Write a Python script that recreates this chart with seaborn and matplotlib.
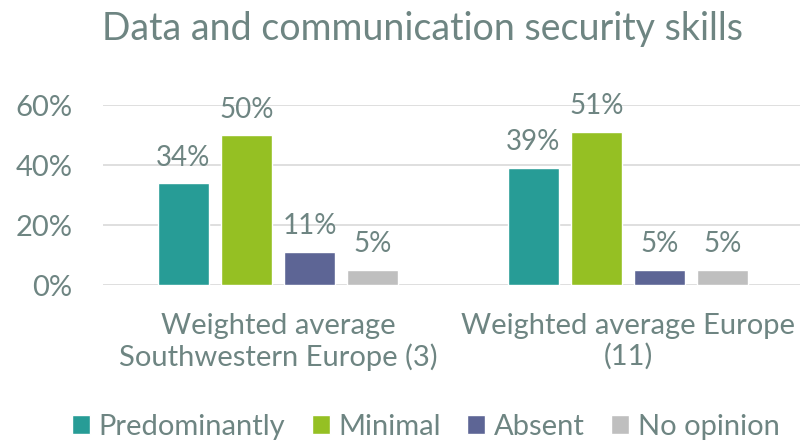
import matplotlib
matplotlib.use("Agg")
import matplotlib.pyplot as plt
import seaborn as sns
import pandas as pd

# data
regions = ["Weighted average\nSouthwestern Europe (3)", "Weighted average Europe\n(11)"]
answers = ["Predominantly", "Minimal", "Absent", "No opinion"]
southwest = [34, 50, 11, 5]
europe = [39, 51, 5, 5]
colors = ["#279C96", "#95C023", "#5D6595", "#BFBFBF"]
txt = "#6E8582"

rows = []
for reg, vals in zip(regions, [southwest, europe]):
    for a, v in zip(answers, vals):
        rows.append({"region": reg, "answer": a, "value": v})
df = pd.DataFrame(rows)

sns.set_style("white")
plt.rcParams["font.family"] = ["Lato", "DejaVu Sans"]

fig = plt.figure(figsize=(8, 4.41), dpi=100)
ax = fig.add_axes([103 / 800, 156 / 441, 700 / 800, 180 / 441])

sns.barplot(data=df, x="region", y="value", hue="answer", palette=colors,
            width=0.72, gap=0.2, saturation=1, ax=ax, legend=True)

for c in ax.containers:
    ax.bar_label(c, fmt="%.0f%%", padding=9, fontsize=20, color=txt)

ax.set_ylim(0, 60)
ax.set_xlim(-0.5, 1.5)
ax.set_yticks([0, 20, 40, 60])
ax.set_yticklabels(["0%", "20%", "40%", "60%"])
ax.yaxis.grid(True, color="#D9D9D9", lw=1.2)
ax.set_axisbelow(True)
for s in ax.spines.values():
    s.set_visible(False)
ax.tick_params(axis="both", length=0, labelsize=21, colors=txt)
ax.tick_params(axis="y", pad=22)
ax.tick_params(axis="x", pad=20)
ax.set_xlabel("")
ax.set_ylabel("")

fig.text(422 / 800, 1 - 40 / 441, "Data and communication security skills",
         ha="center", va="baseline", fontsize=27, color=txt)

h, l = ax.get_legend_handles_labels()
ax.legend_.remove()
fig.legend(h, l, loc="center", bbox_to_anchor=(426 / 800, 1 - 427 / 441),
           ncol=4, frameon=False, fontsize=21, labelcolor=txt,
           handlelength=0.62, handleheight=0.62, handletextpad=0.3, columnspacing=0.9)

fig.savefig("out.png", dpi=100)
